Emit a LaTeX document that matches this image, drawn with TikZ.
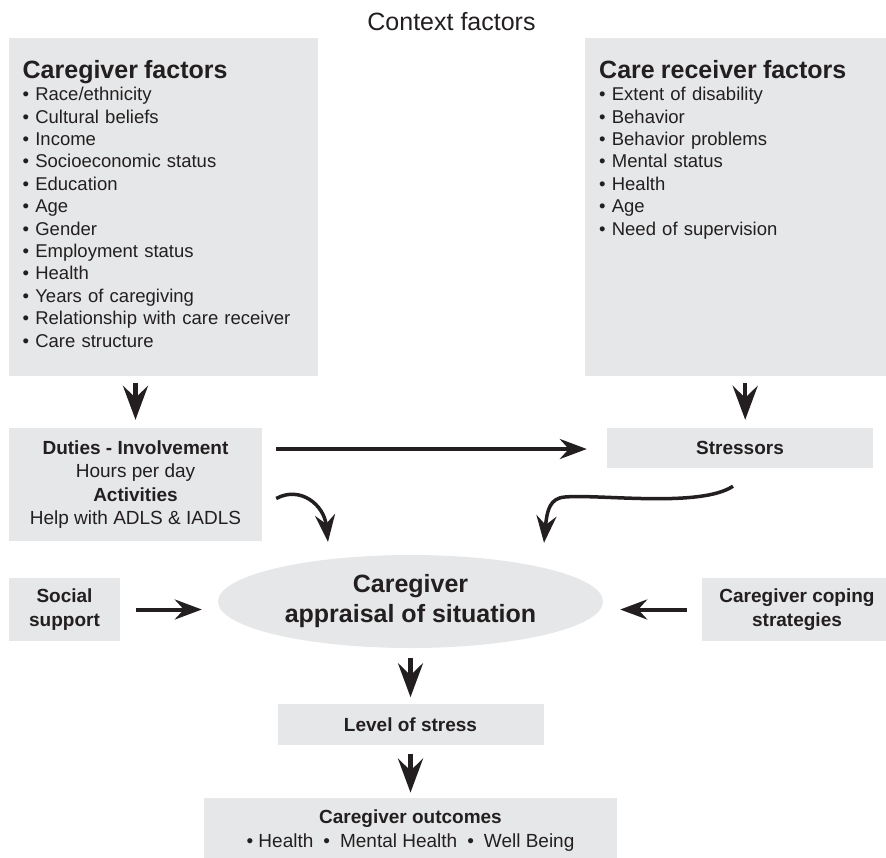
\documentclass[tikz,border=0pt]{standalone}
\usepackage{fontspec}
\setmainfont{Liberation Sans}
\usetikzlibrary{arrows.meta, positioning, calc, shapes.geometric}
\definecolor{boxgray}{RGB}{230, 231, 232}
\definecolor{inkblack}{RGB}{35, 31, 32}

\begin{document}
\begin{tikzpicture}[
  x=1pt, y=-1pt,
  every node/.style = {text=inkblack},
  factorbox/.style = {rectangle, fill=boxgray, anchor=north west, align=left,
                      inner xsep=13.5pt, inner ysep=22pt, text height=18pt, text depth=276pt,
                      font=\fontsize{18.5}{22.4}\selectfont},
  smallbox/.style = {rectangle, fill=boxgray, align=center, inner sep=0pt,
                     font=\fontsize{19}{24}\selectfont\bfseries},
  bigarr/.style = {-{Stealth[length=34pt, width=25pt, inset=12pt]}, line width=4.5pt, draw=inkblack},
  arr/.style = {-{Stealth[length=27pt, width=20pt, inset=9pt]}, line width=4pt, draw=inkblack},
  curvarr/.style = {arr, line width=3.5pt}
]
\useasboundingbox (0,0) rectangle (886,857);

\node[anchor=base, font=\fontsize{25}{30}\selectfont] (ctx) at (451.5,30) {Context factors};

\node[factorbox, text width=282pt] (cgf) at (9,38) {%
  {\fontsize{25}{22.4}\selectfont\bfseries Caregiver factors}\\
  \textbullet\ Race/ethnicity\\
  \textbullet\ Cultural beliefs\\
  \textbullet\ Income\\
  \textbullet\ Socioeconomic status\\
  \textbullet\ Education\\
  \textbullet\ Age\\
  \textbullet\ Gender\\
  \textbullet\ Employment status\\
  \textbullet\ Health\\
  \textbullet\ Years of caregiving\\
  \textbullet\ Relationship with care receiver\\
  \textbullet\ Care structure};
\node[factorbox, text width=273pt, inner xsep=14pt] (crf) at (585,38) {%
  {\fontsize{25}{22.4}\selectfont\bfseries Care receiver factors}\\
  \textbullet\ Extent of disability\\
  \textbullet\ Behavior\\
  \textbullet\ Behavior problems\\
  \textbullet\ Mental status\\
  \textbullet\ Health\\
  \textbullet\ Age\\
  \textbullet\ Need of supervision};

\node[smallbox, minimum width=253pt, minimum height=113pt, font=\fontsize{19}{23.3}\selectfont]
  (duties) at (135.5,484.5) {\textbf{Duties - Involvement}\\Hours per day\\\textbf{Activities}\\Help with ADLS \& IADLS};
\node[smallbox, minimum width=266pt, minimum height=40pt] (str) at (740,448) {Stressors};
\node[ellipse, fill=boxgray, minimum width=385pt, minimum height=93pt, inner sep=0pt, align=center,
      font=\fontsize{25}{30}\selectfont\bfseries] (ell) at (410.5,601.5) {Caregiver\\appraisal of situation};
\node[smallbox, minimum width=111pt, minimum height=63pt] (soc) at (64.5,609.5) {Social\\support};
\node[smallbox, minimum width=190pt, minimum height=63pt] (cop) at (797,609.5) {Caregiver coping\\strategies};
\node[smallbox, minimum width=266pt, minimum height=41pt, below=56pt of ell] (lvl) {Level of stress};
\node[smallbox, minimum width=413pt, minimum height=66pt, below=52pt of lvl, font=\fontsize{19}{24}\selectfont]
  (out) {\textbf{Caregiver outcomes}\\\textbullet\ Health\hspace{10pt}\textbullet\hspace{10pt}Mental Health\hspace{10pt}\textbullet\hspace{10pt}Well Being};

% arrows
\draw[bigarr] ($(duties.north |- cgf.south)+(0,7)$) -- ($(duties.north)+(0,-8)$);
\draw[bigarr] ($(crf.south)+(9.5,7)$) -- ($(crf.south |- str.north)+(9.5,-8)$);
\draw[arr] ($(duties.east |- str.west)+(14,1)$) -- ($(str.west)+(-20,1)$);
\draw[curvarr] ($(duties.east)+(14,14)$) .. controls +(24,-13) and +(-4,-37) .. ($(ell.north)+(-82.5,-13)$);
\draw[curvarr] ($(str.south)+(-7,18)$) .. controls (700,508) and (600,494) .. (565,497)
  .. controls (550,498) and (547,510) .. ($(ell.north)+(133.5,-12)$);
\draw[arr] ($(soc.east)+(16,0)$) -- ($(soc.east -| ell.west)+(-16,0)$);
\draw[arr] ($(cop.west)+(-15,0)$) -- ($(cop.west -| ell.east)+(17,0)$);
\draw[bigarr] ($(ell.south)+(0,10)$) -- ($(lvl.north)+(0,-7)$);
\draw[bigarr] ($(lvl.south)+(0,8)$) -- ($(out.north)+(0,-5)$);
\end{tikzpicture}
\end{document}
